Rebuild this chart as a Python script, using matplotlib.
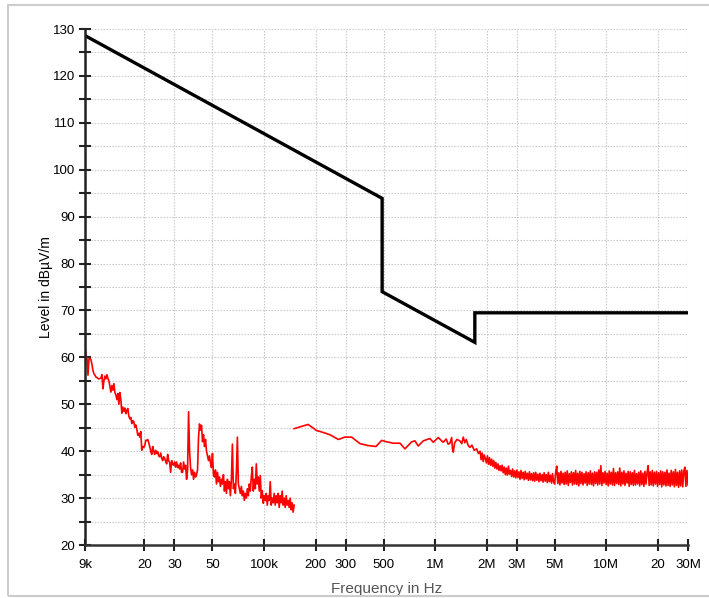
import matplotlib
matplotlib.use("Agg")
import matplotlib.pyplot as plt
import numpy as np
from matplotlib.patches import Rectangle
from matplotlib.ticker import FixedLocator, NullFormatter

# limit line (Hz, dBuV/m)
limit_freq = [9e3, 490e3, 490e3, 1.705e6, 1.705e6, 30e6]
limit_level = [128.6, 93.9, 74.0, 63.2, 69.5, 69.5]

# measurement, part 1: 9 kHz .. 150 kHz, log sweep
seg1_level = [
    62.4, 60.5, 59.8, 56.2, 59.7, 59.8, 59.5, 58.5, 57.2, 56.5,
    56.2, 55.8, 55.7, 55.5, 55.4, 55.5, 55.6, 56.3, 53.3, 55.0,
    56.0, 55.4, 56.3, 55.5, 55.0, 53.8, 52.6, 54.0, 53.0, 54.4,
    52.5, 52.0, 51.0, 52.3, 50.0, 52.5, 51.0, 48.1, 49.4, 48.5,
    49.2, 48.0, 48.7, 49.1, 47.5, 46.9, 47.2, 45.9, 46.5, 46.3,
    45.1, 45.6, 44.7, 43.4, 43.8, 43.0, 44.2, 40.2, 41.0, 40.8,
    41.2, 42.3, 42.3, 42.5, 41.8, 41.0, 40.0, 39.3, 41.0, 40.0,
    39.3, 40.2, 39.5, 39.9, 39.0, 38.8, 39.6, 38.5, 38.0, 38.8,
    38.5, 37.8, 37.3, 39.3, 38.0, 37.6, 35.5, 38.0, 37.2, 37.0,
    37.7, 36.6, 37.7, 36.5, 37.0, 36.2, 37.5, 35.5, 35.5, 37.7,
    36.2, 37.0, 34.0, 36.0, 48.4, 40.0, 36.5, 35.0, 36.0, 34.0,
    35.5, 34.5, 35.0, 36.0, 43.0, 45.8, 44.5, 45.5, 42.0, 43.5,
    41.0, 42.5, 40.0, 39.0, 38.0, 39.0, 37.5, 36.5, 39.5, 35.0,
    34.5, 36.0, 33.0, 35.5, 33.5, 34.5, 32.5, 34.0, 33.0, 35.0,
    31.5, 33.5, 31.0, 34.0, 32.0, 33.5, 30.5, 34.0, 41.5, 32.0,
    33.0, 31.0, 35.5, 43.0, 33.0, 32.0, 31.0, 32.5, 30.5, 31.5,
    29.5, 31.0, 30.0, 32.0, 30.5, 33.0, 31.5, 34.5, 36.6, 31.5,
    34.0, 32.0, 37.3, 33.0, 34.5, 31.5, 34.8, 30.0, 31.6, 28.9,
    30.5, 29.5, 31.0, 28.5, 30.5, 29.5, 33.5, 28.5, 30.0, 29.0,
    31.0, 28.5, 30.5, 29.0, 31.0, 28.0, 30.5, 29.0, 31.5, 28.5,
    30.0, 28.0, 30.5, 28.5, 29.5, 28.0, 30.0, 27.5, 29.0, 27.0,
    28.5,
]

# measurement, part 2a: 150 kHz .. 1.8 MHz (kHz, dBuV/m)
seg2a_freq_khz = [150, 181, 203, 217, 243, 272, 297, 325, 364, 406,
                  451, 487, 521, 569, 623, 666, 729, 762, 796, 852,
                  932, 975, 1042, 1114, 1160, 1190, 1220, 1248, 1262, 1276,
                  1300, 1340, 1395, 1430, 1459, 1490, 1520, 1560, 1596, 1640,
                  1690, 1747, 1790]
seg2a_level = [44.8, 45.7, 44.4, 44.1, 43.5, 42.5, 43.0, 43.0, 41.6, 41.2,
               41.0, 42.3, 42.0, 41.7, 41.7, 40.5, 42.0, 42.2, 41.1, 42.2,
               42.7, 41.9, 42.9, 41.9, 42.6, 41.5, 41.7, 42.9, 40.5, 39.8,
               41.8, 42.5, 42.2, 41.6, 43.0, 41.8, 42.5, 41.2, 40.8, 41.3,
               40.2, 40.5, 39.5]

# measurement, part 2b: 1.83 MHz .. 30 MHz, log sweep
seg2b_level = [
    40.0, 38.2, 39.6, 37.8, 39.2, 38.4, 37.5, 39.0, 37.2, 38.6,
    37.0, 38.3, 36.8, 38.0, 36.4, 37.6, 36.2, 37.3, 35.9, 36.9,
    35.8,
    37.0, 35.4, 36.6, 35.0, 36.4, 34.9, 36.8, 35.1, 35.9, 34.6,
    36.2, 34.5, 35.8, 34.3, 36.0, 34.4, 35.6, 34.0, 35.9, 34.2,
    35.5, 33.9, 35.7, 34.1, 35.3, 33.8, 35.6, 33.9, 35.2, 33.7,
    35.4, 33.6, 35.5, 33.8, 35.1, 33.5, 35.3, 33.7, 35.0, 33.4,
    35.4, 33.6, 35.0, 33.3, 35.5, 33.5, 34.9, 33.2, 35.2, 33.4,
    33.0, 35.6, 36.8, 33.1, 35.4, 32.8, 35.7, 33.2, 35.3, 32.9,
    35.5, 33.0, 35.8, 32.7, 35.2, 33.3, 35.6, 32.8, 35.4, 33.0,
    35.9, 32.9, 35.3, 32.6, 35.7, 33.1, 35.5, 32.8, 35.2, 33.2,
    35.6, 32.7, 35.4, 33.0, 35.8, 32.9, 35.3, 32.6, 35.6, 33.1,
    35.5, 32.8, 36.0, 33.0, 36.9, 32.7, 35.4, 33.2, 35.7, 32.9,
    35.3, 32.6, 35.8, 33.0, 35.5, 32.8, 36.3, 32.7, 35.4, 33.1,
    35.6, 32.9, 36.4, 32.6, 35.5, 33.0, 35.8, 32.7, 35.3, 33.2,
    35.7, 32.5, 35.6, 32.9, 35.4, 32.7, 35.9, 32.8, 35.2, 33.0,
    35.5, 32.6, 35.8, 32.9, 35.3, 32.5, 35.7, 33.0, 35.4, 36.9,
    32.7, 35.6, 32.8, 35.9, 32.6, 35.5, 33.0, 35.7, 32.5, 35.4,
    32.9, 35.8, 32.4, 35.6, 32.8, 35.5, 32.6, 36.0, 32.7, 35.3,
    32.5, 35.9, 32.8, 35.6, 32.4, 36.1, 32.7, 35.5, 32.3, 35.8,
    32.6, 36.0, 32.4, 35.7, 36.6, 32.5, 35.9, 32.8,
]

xticks = [9e3, 20e3, 30e3, 50e3, 100e3, 200e3, 300e3, 500e3,
          1e6, 2e6, 3e6, 5e6, 10e6, 20e6, 30e6]
xticklabels = ["9k", "20", "30", "50", "100k", "200", "300", "500",
               "1M", "2M", "3M", "5M", "10M", "20", "30M"]

seg1_freq = np.geomspace(9e3, 150e3, len(seg1_level))
seg2a_freq = np.array(seg2a_freq_khz) * 1e3
seg2b_freq = np.geomspace(1.83e6, 30e6, len(seg2b_level))

plt.rcParams['font.family'] = ['Liberation Sans Narrow', 'Liberation Sans', 'DejaVu Sans']

fig = plt.figure(figsize=(7.09, 5.98), dpi=100)
fig.patches.append(Rectangle((8 / 709, 2 / 598), 1.2, 591 / 598, transform=fig.transFigure,
                             fill=False, edgecolor="#cccccc", linewidth=1.5))
ax = fig.add_axes([85 / 709, 1 - 545 / 598, 603 / 709, 516 / 598])

ax.plot(seg1_freq, seg1_level, color="red", linewidth=1.2)
ax.plot(np.concatenate([seg2a_freq, seg2b_freq]),
        np.concatenate([seg2a_level, seg2b_level]), color="red", linewidth=1.2)
ax.plot(limit_freq, limit_level, color="black", linewidth=2.4, solid_joinstyle="miter")

ax.set_xscale("log")
ax.set_xlim(9e3, 30e6)
ax.set_ylim(20, 130)
ax.xaxis.set_major_locator(FixedLocator(xticks))
ax.xaxis.set_minor_locator(FixedLocator([]))
ax.xaxis.set_minor_formatter(NullFormatter())
ax.set_xticklabels(xticklabels)
ax.set_yticks(np.arange(20, 131, 10))
ax.set_yticks(np.arange(25, 130, 10), minor=True)

for side in ["top", "right"]:
    ax.spines[side].set_visible(False)
ax.spines["left"].set_linewidth(1.8)
ax.spines["left"].set_color("#222222")
ax.spines["bottom"].set_linewidth(1.8)
ax.spines["bottom"].set_color("#333333")

ax.tick_params(axis="both", which="both", direction="inout", length=8, width=1.5,
               colors="#222222", labelsize=9.5, labelcolor="black")
ax.tick_params(axis="x", pad=6)
ax.tick_params(axis="y", pad=3)

ax.grid(True, which="both", color="#c4c4c4", linestyle=(0, (1.2, 1.5)), linewidth=0.8)
ax.set_axisbelow(True)

ax.set_xlabel("Frequency in Hz", fontsize=11, color="#555555", labelpad=8)
ax.set_ylabel("Level in dB\u00b5V/m", fontsize=10, color="black", labelpad=0)

fig.savefig("out.png", dpi=100)
